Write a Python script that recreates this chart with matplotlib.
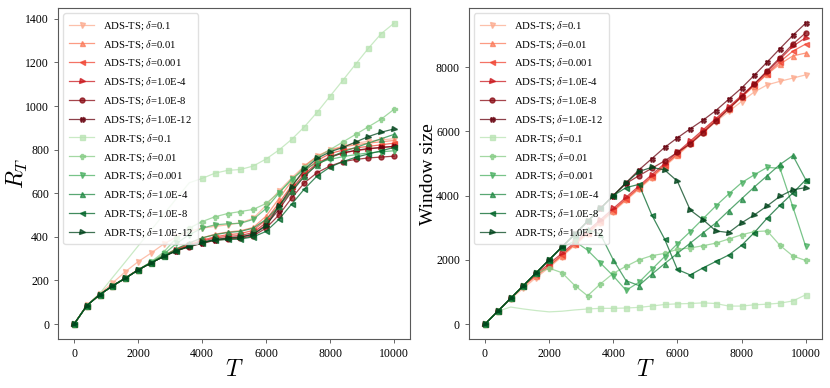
import matplotlib
matplotlib.use("Agg")
import matplotlib.pyplot as plt
import numpy as np

plt.rcParams['font.family'] = ['Liberation Serif', 'DejaVu Serif']
plt.rcParams['mathtext.fontset'] = 'cm'

# time steps (every 400 rounds)
T = list(range(0, 10001, 400))

labels = ['ADS-TS; $\\delta$=0.1', 'ADS-TS; $\\delta$=0.01', 'ADS-TS; $\\delta$=0.001',
          'ADS-TS; $\\delta$=1.0E-4', 'ADS-TS; $\\delta$=1.0E-8', 'ADS-TS; $\\delta$=1.0E-12',
          'ADR-TS; $\\delta$=0.1', 'ADR-TS; $\\delta$=0.01', 'ADR-TS; $\\delta$=0.001',
          'ADR-TS; $\\delta$=1.0E-4', 'ADR-TS; $\\delta$=1.0E-8', 'ADR-TS; $\\delta$=1.0E-12']

# cumulative regret R_T
regret_ads_01 = [0, 88, 140, 188, 240, 286, 325, 367, 400, 425, 440, 448, 455, 465, 485, 545, 610, 670, 725, 770, 800, 815, 830, 838, 845, 850]
regret_ads_001 = [0, 85, 135, 176, 212, 250, 283, 315, 345, 372, 395, 412, 422, 428, 443, 495, 575, 655, 725, 770, 797, 812, 822, 830, 836, 842]
regret_ads_0001 = [0, 85, 135, 175, 211, 249, 282, 313, 342, 365, 385, 400, 410, 415, 430, 478, 555, 635, 700, 750, 782, 798, 808, 815, 822, 830]
regret_ads_1e4 = [0, 85, 135, 175, 210, 248, 281, 311, 340, 362, 380, 395, 402, 406, 420, 465, 540, 620, 688, 738, 768, 785, 795, 803, 810, 815]
regret_ads_1e8 = [0, 85, 135, 175, 210, 248, 280, 310, 336, 355, 370, 384, 390, 393, 405, 440, 500, 578, 648, 695, 725, 745, 755, 762, 766, 770]
regret_ads_1e12 = [0, 85, 135, 175, 210, 248, 280, 310, 337, 357, 372, 387, 393, 398, 412, 455, 525, 608, 678, 732, 765, 785, 797, 805, 810, 815]
regret_adr_01 = [0, 85, 140, 213, 285, 358, 430, 503, 576, 648, 668, 692, 705, 709, 725, 757, 798, 847, 905, 972, 1045, 1118, 1192, 1265, 1332, 1380]
regret_adr_001 = [0, 85, 135, 175, 210, 248, 285, 330, 395, 440, 470, 492, 507, 516, 526, 553, 603, 660, 720, 765, 800, 835, 870, 905, 940, 985]
regret_adr_0001 = [0, 85, 135, 175, 210, 248, 283, 320, 370, 410, 440, 455, 460, 462, 480, 530, 600, 665, 710, 740, 755, 768, 777, 785, 790, 795]
regret_adr_1e4 = [0, 85, 135, 175, 210, 248, 281, 312, 345, 372, 395, 410, 420, 425, 440, 480, 540, 610, 680, 730, 765, 790, 810, 830, 850, 870]
regret_adr_1e8 = [0, 85, 135, 175, 210, 248, 280, 310, 336, 356, 372, 385, 388, 390, 400, 425, 480, 550, 620, 680, 720, 745, 765, 780, 795, 810]
regret_adr_1e12 = [0, 85, 135, 175, 210, 248, 280, 310, 337, 357, 375, 388, 395, 400, 412, 450, 540, 630, 710, 760, 790, 810, 835, 860, 880, 895]

# window size
win_ads_01 = [0, 400, 780, 1120, 1450, 1760, 2100, 2450, 2800, 3150, 3500, 3850, 4200, 4550, 4900, 5250, 5600, 5950, 6300, 6620, 6930, 7230, 7450, 7560, 7660, 7760]
win_ads_001 = [0, 400, 800, 1180, 1500, 1800, 2130, 2480, 2830, 3180, 3530, 3880, 4230, 4580, 4930, 5280, 5630, 5980, 6340, 6700, 7060, 7420, 7780, 8100, 8350, 8440]
win_ads_0001 = [0, 400, 800, 1190, 1520, 1820, 2150, 2500, 2850, 3200, 3550, 3900, 4250, 4600, 4950, 5300, 5650, 6000, 6360, 6720, 7080, 7440, 7800, 8170, 8500, 8720]
win_ads_1e4 = [0, 400, 800, 1200, 1560, 1880, 2200, 2550, 2900, 3250, 3600, 3950, 4300, 4650, 5000, 5350, 5700, 6050, 6400, 6760, 7120, 7480, 7850, 8250, 8650, 8920]
win_ads_1e8 = [0, 400, 800, 1200, 1600, 2000, 2400, 2800, 3200, 3600, 4000, 4380, 4620, 4850, 5080, 5350, 5610, 5960, 6320, 6700, 7080, 7480, 7890, 8300, 8720, 9070]
win_ads_1e12 = [0, 400, 800, 1200, 1600, 2000, 2400, 2800, 3200, 3600, 4000, 4400, 4800, 5150, 5500, 5800, 6080, 6350, 6650, 7000, 7350, 7750, 8160, 8580, 8990, 9370]
win_adr_01 = [0, 400, 530, 470, 420, 380, 400, 440, 470, 490, 490, 500, 520, 560, 610, 630, 640, 660, 640, 560, 560, 600, 620, 650, 720, 910]
win_adr_001 = [0, 400, 800, 1200, 1580, 1740, 1600, 1200, 880, 1250, 1580, 1800, 2000, 2130, 2200, 2330, 2370, 2440, 2520, 2650, 2780, 2880, 2900, 2450, 2120, 1980]
win_adr_0001 = [0, 400, 800, 1200, 1600, 2000, 2400, 2580, 2300, 1900, 1500, 1050, 1300, 1700, 2100, 2500, 2880, 3280, 3680, 4050, 4400, 4650, 4880, 4850, 3650, 2420]
win_adr_1e4 = [0, 400, 800, 1200, 1600, 2000, 2400, 2780, 2950, 2800, 2000, 1350, 1200, 1550, 1880, 2200, 2520, 2840, 3150, 3530, 3900, 4270, 4620, 4970, 5250, 4500]
win_adr_1e8 = [0, 400, 800, 1200, 1600, 2000, 2400, 2800, 3200, 3600, 4000, 4250, 4350, 3400, 2650, 1700, 1530, 1750, 1950, 2150, 2450, 2850, 3300, 3700, 4080, 4490]
win_adr_1e12 = [0, 400, 800, 1200, 1600, 2000, 2400, 2800, 3200, 3600, 4000, 4400, 4750, 4880, 4800, 4450, 3550, 3250, 2900, 2850, 3150, 3400, 3680, 3980, 4180, 4250]

regret = [regret_ads_01, regret_ads_001, regret_ads_0001, regret_ads_1e4, regret_ads_1e8, regret_ads_1e12,
          regret_adr_01, regret_adr_001, regret_adr_0001, regret_adr_1e4, regret_adr_1e8, regret_adr_1e12]
window = [win_ads_01, win_ads_001, win_ads_0001, win_ads_1e4, win_ads_1e8, win_ads_1e12,
          win_adr_01, win_adr_001, win_adr_0001, win_adr_1e4, win_adr_1e8, win_adr_1e12]

markers = ['v', '^', '<', '>', 'o', 'X', 's', 'P', 'v', '^', '<', '>']
colors = (list(plt.cm.Reds([0.3, 0.45, 0.6, 0.75, 0.93, 1.0]))
          + list(plt.cm.Greens([0.3, 0.45, 0.6, 0.75, 0.9, 1.0])))

fig = plt.figure(figsize=(8.3, 3.88), dpi=100)
ax1 = fig.add_axes([0.07, 0.126, 0.424, 0.853])
ax2 = fig.add_axes([0.565, 0.126, 0.425, 0.853])

for i in range(12):
    # ADR-TS delta=0.1 has no markers on its early part
    start_left = 10 if i == 6 else 0
    start_right = 8 if i == 6 else 0
    ax1.plot(T, regret[i], marker=markers[i], color=colors[i], label=labels[i],
             lw=0.9, ms=3.6, alpha=0.75, markevery=slice(start_left, None))
    ax2.plot(T, window[i], marker=markers[i], color=colors[i], label=labels[i],
             lw=0.9, ms=3.6, alpha=0.75, markevery=slice(start_right, None))

ax1.set_xlabel('$T$', fontsize=17, labelpad=0)
ax1.set_ylabel('$R_T$', fontsize=17)
ax1.yaxis.set_label_coords(-0.08, 0.5)
ax2.set_xlabel('$T$', fontsize=17, labelpad=0)
ax2.set_ylabel('Window size', fontsize=14)
ax2.yaxis.set_label_coords(-0.09, 0.5)
ax1.set_yticks(range(0, 1401, 200))
ax2.set_yticks(range(0, 8001, 2000))

for ax in (ax1, ax2):
    ax.set_xticks(range(0, 10001, 2000))
    ax.tick_params(labelsize=8.5, length=3, width=0.6, color='0.3')
    for s in ax.spines.values():
        s.set_color('0.35')
        s.set_linewidth(0.8)
    ax.legend(loc='upper left', fontsize=7.7, labelspacing=0.55, handlelength=2.4,
              borderpad=0.5, framealpha=0.8, edgecolor='0.85')

plt.savefig('out.png', dpi=100)
